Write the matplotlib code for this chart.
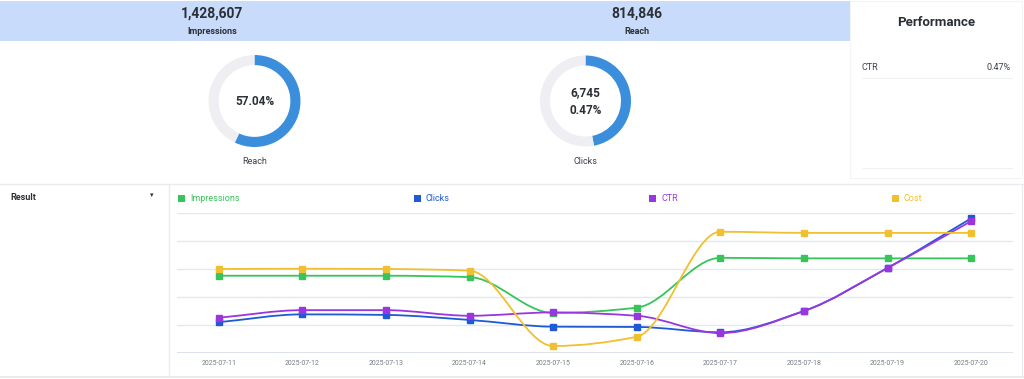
import numpy as np
import matplotlib
matplotlib.use("Agg")
import matplotlib.pyplot as plt
from matplotlib.path import Path
from matplotlib.patches import PathPatch, Rectangle

plt.rcParams['font.family'] = ['Roboto', 'DejaVu Sans']

# ---------------- data ----------------
kpi_labels = ["Impressions", "Reach"]
kpi_values = ["1,428,607", "814,846"]

reach_pct = 57.04          # gauge 1
clicks_total = "6,745"
ctr_text = "0.47%"
clicks_gauge_fill = 0.47   # arc drawn in gauge 2

perf_rows = ["CTR"]
perf_vals = ["0.47%"]

dates = ["2025-07-11", "2025-07-12", "2025-07-13", "2025-07-14", "2025-07-15",
         "2025-07-16", "2025-07-17", "2025-07-18", "2025-07-19", "2025-07-20"]
# values on the chart's hidden normalised scale (0-5, one unit per gridline)
impressions = [2.76, 2.76, 2.76, 2.71, 1.43, 1.62, 3.40, 3.38, 3.38, 3.38]
clicks      = [1.10, 1.38, 1.36, 1.18, 0.94, 0.93, 0.74, 1.50, 3.04, 4.81]
ctr         = [1.26, 1.53, 1.53, 1.33, 1.45, 1.33, 0.71, 1.50, 3.04, 4.71]
cost        = [3.00, 3.01, 3.00, 2.94, 0.25, 0.58, 4.33, 4.29, 4.29, 4.29]

series_names = ["Impressions", "Clicks", "CTR", "Cost"]
series_colors = ["#37c45a", "#1d5ad6", "#9a36e0", "#f0c030"]
series_data = [impressions, clicks, ctr, cost]

W, H = 1024, 379
fig = plt.figure(figsize=(W / 100, H / 100), dpi=100)
fig.patch.set_facecolor("white")

# pixel overlay axes
ov = fig.add_axes([0, 0, 1, 1])
ov.set_xlim(0, W)
ov.set_ylim(H, 0)
ov.axis("off")
ov.patch.set_alpha(0)

dark = "#2b2f36"
line_c = "#e9ebef"

# top band
ov.add_patch(Rectangle((0, 1), 850, 40, facecolor="#c9dbfa", edgecolor="none"))
ov.add_patch(Rectangle((850, 1), 172, 177, facecolor="white", edgecolor="#f3f4f6", lw=0.8))
kpi_x = [212, 637]
for x, v, l in zip(kpi_x, kpi_values, kpi_labels):
    ov.text(x, 14, v, ha="center", va="center", fontsize=10, fontweight="bold", color=dark)
    ov.text(x, 31, l, ha="center", va="center", fontsize=6.5, fontweight="bold", color=dark)

ov.text(936, 22, "Performance", ha="center", va="center", fontsize=9.5, fontweight="bold", color=dark)
for i, (r, v) in enumerate(zip(perf_rows, perf_vals)):
    y = 67 + i * 24
    ov.text(862, y, r, ha="left", va="center", fontsize=6.5, color="#3c4048")
    ov.text(1011, y, v, ha="right", va="center", fontsize=6.5, color="#3c4048")
    ov.plot([862, 1012], [y + 11, y + 11], color="#f0f1f3", lw=0.8)
ov.plot([862, 1012], [168, 168], color="#f0f1f3", lw=0.8)

# donuts
blue = "#3a8edb"
track = "#efeef3"
def donut(cx, cy, r, frac):
    a = fig.add_axes([(cx - r) / W, (H - cy - r) / H, 2 * r / W, 2 * r / H])
    a.pie([frac, 1 - frac], colors=[blue, track], startangle=90, counterclock=False,
          wedgeprops=dict(width=0.22, edgecolor="none"))
    a.set_xlim(-1, 1); a.set_ylim(-1, 1)
    a.axis("off")
    return a

donut(254.5, 101, 46, reach_pct / 100)
ov.text(254.5, 101.5, f"{reach_pct:.2f}%", ha="center", va="center", fontsize=8.5, fontweight="bold", color=dark)
ov.text(254.5, 161, "Reach", ha="center", va="center", fontsize=6.5, color="#3c4048")

donut(585.5, 101, 45.5, clicks_gauge_fill)
ov.text(585.5, 93, clicks_total, ha="center", va="center", fontsize=8.5, fontweight="bold", color=dark)
ov.text(585.5, 110, ctr_text, ha="center", va="center", fontsize=8.5, fontweight="bold", color=dark)
ov.text(585.5, 161, "Clicks", ha="center", va="center", fontsize=6.5, color="#3c4048")

# separators
ov.plot([0, W], [184, 184], color=line_c, lw=1)
ov.plot([169, 169], [184, 376], color=line_c, lw=1)
ov.plot([0, W], [376.5, 376.5], color=line_c, lw=1.5)
ov.plot([1021.5, 1021.5], [184, 376], color=line_c, lw=0.8)

ov.text(10, 198, "Result", ha="left", va="center", fontsize=6.5, fontweight="bold", color=dark)
ov.text(152, 196, "\u25be", ha="center", va="center", fontsize=5, color=dark)

# legend
leg_x = [181, 417, 652, 895]
for x, n, c in zip(leg_x, series_names, series_colors):
    ov.add_patch(Rectangle((x - 3.5, 194.5), 7, 7, facecolor=c, edgecolor="none"))
    ov.text(x + 9, 198.5, n, ha="left", va="center", fontsize=6.5, color=c)

# line chart
ax = fig.add_axes([177 / W, (H - 353) / H, 836 / W, 140 / H])
ax.patch.set_alpha(0)
x = np.arange(len(dates))
ax.set_xlim(-0.5, len(dates) - 0.5)
ax.set_ylim(0, 5)
for g in range(0, 6):
    ax.axhline(g, color="#e4e7ee" if g else "#d6dbe6", lw=1.0 if g else 1.2, zorder=0)
for s in ax.spines.values():
    s.set_visible(False)
ax.set_yticks([])
ax.set_xticks(x)
ax.set_xticklabels(dates, fontsize=5, color="#777c85")
ax.tick_params(axis="x", length=0, pad=5)

def smooth_path(xs, ys):
    xs = np.asarray(xs, float); ys = np.asarray(ys, float)
    h = np.diff(xs); d = np.diff(ys) / h
    n = len(xs)
    m = np.zeros(n)
    m[0] = d[0]; m[-1] = d[-1]
    for i in range(1, n - 1):
        if d[i - 1] * d[i] <= 0:
            m[i] = 0
        else:
            w1 = 2 * h[i] + h[i - 1]; w2 = h[i] + 2 * h[i - 1]
            m[i] = (w1 + w2) / (w1 / d[i - 1] + w2 / d[i])
    verts = [(xs[0], ys[0])]
    codes = [Path.MOVETO]
    for i in range(n - 1):
        verts += [(xs[i] + h[i] / 3, ys[i] + m[i] * h[i] / 3),
                  (xs[i + 1] - h[i] / 3, ys[i + 1] - m[i + 1] * h[i] / 3),
                  (xs[i + 1], ys[i + 1])]
        codes += [Path.CURVE4] * 3
    return Path(verts, codes)

for i, (vals, c) in enumerate(zip(series_data, series_colors)):
    ax.add_patch(PathPatch(smooth_path(x, vals), facecolor="none", edgecolor=c, lw=1.3, zorder=2 + i))
    ax.plot(x, vals, linestyle="none", marker="s", markersize=5, color=c, zorder=6 + i)

fig.savefig("out.png", dpi=100, facecolor="white")
